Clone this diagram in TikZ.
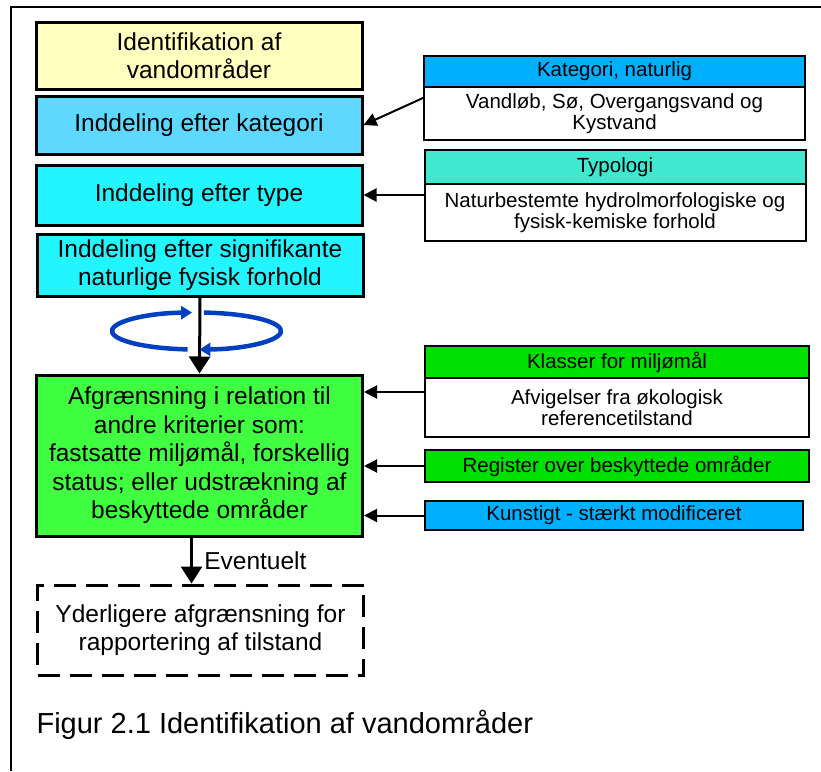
\documentclass[tikz,border=0pt]{standalone}
\usepackage{fontspec}
\setmainfont{Liberation Sans}
\usetikzlibrary{arrows.meta}
\definecolor{gul}{RGB}{255,255,192}
\definecolor{lysblaa}{RGB}{95,216,255}
\definecolor{cyan1}{RGB}{34,245,255}
\definecolor{lysgroen}{RGB}{64,255,64}
\definecolor{blaa}{RGB}{0,176,255}
\definecolor{turkis}{RGB}{64,232,208}
\definecolor{groen}{RGB}{0,224,0}
\definecolor{ring}{RGB}{0,64,192}
\begin{document}
\begin{tikzpicture}[x=1pt,y=-1pt,
hoved/.style={draw,line width=3pt,align=center,inner sep=0pt,minimum width=326pt,font=\fontsize{24.5}{28.5}\selectfont},
lille/.style={draw,line width=2pt,align=center,inner sep=0pt,minimum width=381pt,font=\fontsize{20.5}{20.5}\selectfont},
pil/.style={line width=2pt,-{Triangle[width=13pt,length=13pt]}},
storpil/.style={line width=3pt,-{Triangle[width=21pt,length=17pt]}},
ringpil/.style={draw=ring,line width=4.5pt,-{Triangle[width=13pt,length=11pt]}}]
\useasboundingbox (0,0) rectangle (821,771);
\draw[line width=1.5pt](821,7)--(11,7)--(11,771);
\node[hoved,fill=gul,minimum height=67pt](idf)at(199,55.5){Identifikation af\\vandområder};
\node[hoved,fill=lysblaa,minimum height=58pt](kat)at(199,125){Inddeling efter kategori};
\node[hoved,fill=cyan1,minimum height=60pt](typ)at(199,195){Inddeling efter type};
\node[hoved,fill=cyan1,minimum height=62pt](sig)at(200,265){Inddeling efter signifikante\\naturlige fysisk forhold};
\node[hoved,fill=lysgroen,minimum height=161pt](afg)at(199.5,455.5){Afgrænsning i relation til\\andre kriterier som:\\fastsatte miljømål, forskellig\\status; eller udstrækning af\\beskyttede områder};
\node[hoved,dash pattern=on 22pt off 10pt,minimum height=90pt](ydr)at(200.5,630){Yderligere afgrænsning for\\rapportering af tilstand};
\node[lille,fill=blaa,minimum height=31pt](katH)at(614.5,71.5){Kategori, naturlig};
\node[lille,minimum height=53pt](katB)at(614.5,113.5){Vandløb, Sø, Overgangsvand og\\Kystvand};
\node[lille,fill=turkis,minimum height=34pt](typH)at(615,167){Typologi};
\node[lille,minimum height=57pt](typB)at(615,212.5){Naturbestemte hydrolmorfologiske og\\fysisk-kemiske forhold};
\node[lille,fill=groen,minimum width=384pt,minimum height=32pt](klsH)at(617,362){Klasser for miljømål};
\node[lille,minimum width=384pt,minimum height=59pt](klsB)at(617,407.5){Afvigelser fra økologisk\\referencetilstand};
\node[lille,fill=groen,minimum width=384pt,minimum height=32pt](reg)at(617,466){Register over beskyttede områder};
\node[lille,fill=blaa,minimum width=378pt,minimum height=29pt](kun)at(614,515.5){Kunstigt - stærkt modificeret};
\draw[pil]([yshift=15.5pt]katB.west)--(kat.east);
\draw[pil](typB.west|-typ.east)--(typ.east);
\draw[pil]([yshift=15.5pt]klsB.west)coordinate(k1)--(k1-|afg.east);
\draw[pil](reg.west)--(reg.west-|afg.east);
\draw[pil](kun.west)--(kun.west-|afg.east);
\draw[storpil](sig.south)--(afg.north);
\draw[ringpil]([shift={(96:84.5 and 18.5)}]196.5,331)arc[start angle=96,end angle=267,x radius=84.5,y radius=18.5];
\draw[ringpil]([shift={(-85:84.5 and 18.5)}]196.5,331)arc[start angle=-85,end angle=88,x radius=84.5,y radius=18.5];
\draw[storpil]([xshift=-8pt]afg.south)coordinate(e1)--(e1|-ydr.north)node[midway,right=8pt,font=\fontsize{24.5}{28}\selectfont](evt){Eventuelt};
\node[anchor=west,font=\fontsize{29}{30}\selectfont](fig)at(33,725){Figur 2.1 Identifikation af vandområder};
\end{tikzpicture}
\end{document}
